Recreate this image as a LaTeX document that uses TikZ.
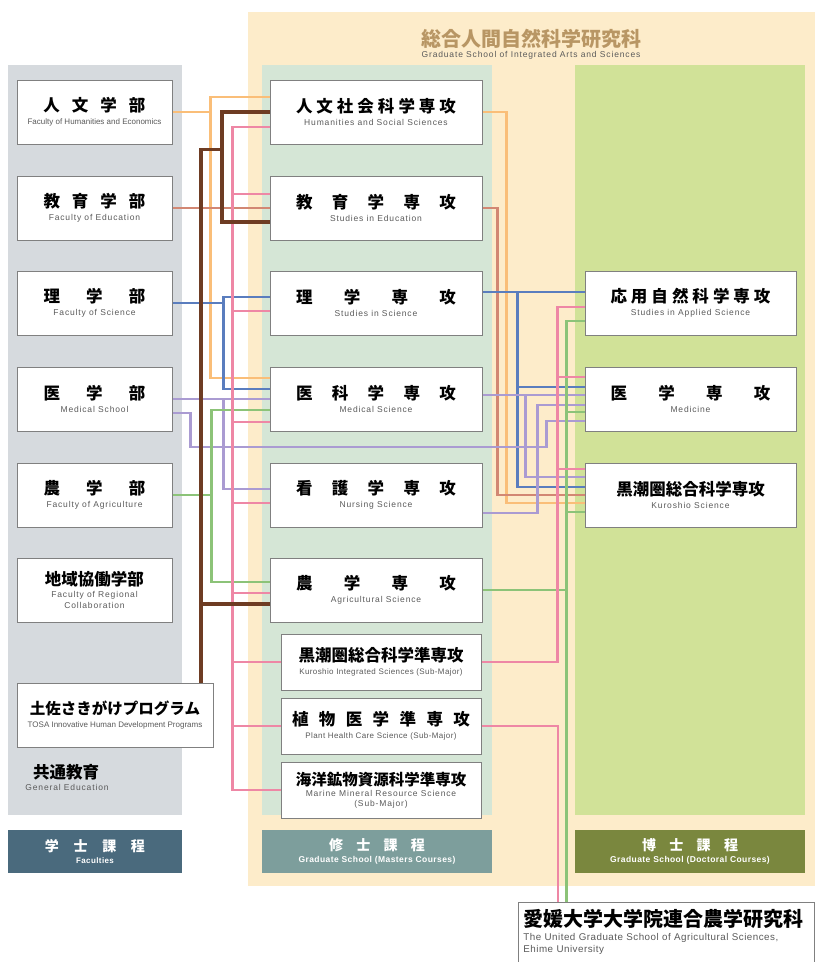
\documentclass[tikz,border=0pt]{standalone}
\usepackage{fontspec}
\setmainfont{Liberation Sans}
\newfontfamily\jpfont{Noto Sans CJK JP}
\newfontfamily\enwide{Liberation Sans}[LetterSpace=10]
\newfontfamily\enmid{Liberation Sans}[LetterSpace=5]
\pgfdeclarelayer{bg}
\pgfdeclarelayer{links}
\pgfsetlayers{bg,links,main}

\definecolor{cream}{RGB}{253,236,202}
\definecolor{panelgray}{RGB}{214,218,222}
\definecolor{panelmint}{RGB}{213,230,214}
\definecolor{panelolive}{RGB}{209,226,152}
\definecolor{boxline}{RGB}{128,128,128}
\definecolor{engray}{RGB}{90,90,90}
\definecolor{titlegold}{RGB}{184,150,100}
\definecolor{barslate}{RGB}{74,106,125}
\definecolor{barteal}{RGB}{125,158,156}
\definecolor{barolive}{RGB}{122,135,62}
\definecolor{cOrange}{RGB}{250,190,120}
\definecolor{cBrown}{RGB}{110,60,35}
\definecolor{cPink}{RGB}{238,135,165}
\definecolor{cSalmon}{RGB}{210,135,115}
\definecolor{cBlue}{RGB}{90,125,190}
\definecolor{cLav}{RGB}{170,155,210}
\definecolor{cGreen}{RGB}{140,195,120}

\newcommand{\jtxt}[1]{{\jpfont\bfseries\fontsize{16.5}{19}\selectfont #1}}
\newcommand{\etxt}[1]{{\enwide\fontsize{8.5}{10}\selectfont\color{engray}#1}}
\newcommand{\etxtm}[1]{{\enmid\fontsize{8}{10}\selectfont\color{engray}#1}}
\newcommand{\etxtn}[1]{{\fontsize{8}{10}\selectfont\color{engray}#1}}
\newcommand{\wide}[2]{\makebox[#1]{#2}}
\newcommand{\boxtxt}[2]{\jtxt{#1}\\[1pt]\etxt{#2}}

\tikzset{
  unitbox/.style={draw=boxline, fill=white, line width=0.9pt, inner sep=0pt,
    align=center, font=\fontsize{10}{12}\selectfont},
  facbox/.style={unitbox, minimum width=155pt, minimum height=64pt},
  mastbox/.style={unitbox, minimum width=212pt, minimum height=64pt},
  subbox/.style={unitbox, minimum width=200pt, minimum height=56pt},
  doctbox/.style={unitbox, minimum width=211pt, minimum height=64pt},
  barbox/.style={minimum width=#1, minimum height=43pt, inner sep=0pt,
    align=center, text=white, font=\fontsize{10}{12}\selectfont},
  link/.style={line width=2.4pt},
  orline/.style={link, draw=cOrange},
  brline/.style={line width=3.4pt, draw=cBrown},
  pkline/.style={link, draw=cPink},
  saline/.style={link, draw=cSalmon},
  blline/.style={link, draw=cBlue},
  lvline/.style={link, draw=cLav},
  grline/.style={link, draw=cGreen}
}

\begin{document}
\begin{tikzpicture}[x=1pt, y=-1pt]
  \useasboundingbox (0,0) rectangle (815,962);

  % panels
  \begin{pgfonlayer}{bg}
    \fill[white] (0,0) rectangle (815,962);
    \fill[cream] (248,12) rectangle (815,886);
    \fill[panelgray] (8,65) rectangle (182,815);
    \fill[panelmint] (262,65) rectangle (492,815);
    \fill[panelolive] (575,65) rectangle (805,815);
  \end{pgfonlayer}

  % title
  \node (title) at (531,39) {\jpfont\bfseries\fontsize{20}{22}\selectfont\color{titlegold}総合人間自然科学研究科};
  \node (subtitle) at (531,55) {\etxt{Graduate School of Integrated Arts and Sciences}};

  % faculties
  \node[facbox] (fHum) at (94.5,112) {\jtxt{\wide{102pt}{人\hfill 文\hfill 学\hfill 部}}\\[1pt]\etxtn{Faculty of Humanities and Economics}};
  \node[facbox] (fEdu) at (94.5,208) {\boxtxt{\wide{102pt}{教\hfill 育\hfill 学\hfill 部}}{Faculty of Education}};
  \node[facbox] (fSci) at (94.5,303) {\boxtxt{\wide{102pt}{理\hfill 学\hfill 部}}{Faculty of Science}};
  \node[facbox] (fMed) at (94.5,399) {\boxtxt{\wide{102pt}{医\hfill 学\hfill 部}}{Medical School}};
  \node[facbox] (fAgr) at (94.5,495) {\boxtxt{\wide{102pt}{農\hfill 学\hfill 部}}{Faculty of Agriculture}};
  \node[facbox] (fReg) at (94.5,590) {\jtxt{地域協働学部}\\[0pt]\etxt{Faculty of Regional}\\[-1pt]\etxt{Collaboration}};
  \node[unitbox, minimum width=196pt, minimum height=64pt] (fTosa) at (115,715)
    {\jtxt{\fontsize{15.5}{18}\selectfont 土佐さきがけプログラム}\\[1pt]\etxtn{TOSA Innovative Human Development Programs}};
  \node (common) at (66,772) {\jtxt{共通教育}};
  \node (commonEn) at (67,787) {\etxt{General Education}};

  % masters
  \node[mastbox] (mHum) at (376,112) {\boxtxt{\wide{160pt}{人\hfill 文\hfill 社\hfill 会\hfill 科\hfill 学\hfill 専\hfill 攻}}{Humanities and Social Sciences}};
  \node[mastbox] (mEdu) at (376,208) {\boxtxt{\wide{160pt}{教\hfill 育\hfill 学\hfill 専\hfill 攻}}{Studies in Education}};
  \node[mastbox] (mSci) at (376,303) {\boxtxt{\wide{160pt}{理\hfill 学\hfill 専\hfill 攻}}{Studies in Science}};
  \node[mastbox] (mMed) at (376,399) {\boxtxt{\wide{160pt}{医\hfill 科\hfill 学\hfill 専\hfill 攻}}{Medical Science}};
  \node[mastbox] (mNur) at (376,495) {\boxtxt{\wide{160pt}{看\hfill 護\hfill 学\hfill 専\hfill 攻}}{Nursing Science}};
  \node[mastbox] (mAgr) at (376,590) {\boxtxt{\wide{160pt}{農\hfill 学\hfill 専\hfill 攻}}{Agricultural Science}};
  \node[subbox] (sKur) at (381,662) {\jtxt{\wide{178pt}{黒潮圏総合科学準専攻}}\\[1pt]\etxtm{Kuroshio Integrated Sciences (Sub-Major)}};
  \node[subbox] (sPla) at (381,726) {\jtxt{\wide{178pt}{植\hfill 物\hfill 医\hfill 学\hfill 準\hfill 専\hfill 攻}}\\[1pt]\etxtm{Plant Health Care Science (Sub-Major)}};
  \node[subbox] (sMar) at (381,790) {\jtxt{\fontsize{15.5}{18}\selectfont 海洋鉱物資源科学準専攻}\\[-1pt]\etxt{Marine Mineral Resource Science}\\[-2pt]\etxt{(Sub-Major)}};

  % doctoral
  \node[doctbox] (dApp) at (690.5,303) {\boxtxt{\wide{160pt}{応\hfill 用\hfill 自\hfill 然\hfill 科\hfill 学\hfill 専\hfill 攻}}{Studies in Applied Science}};
  \node[doctbox] (dMed) at (690.5,399) {\boxtxt{\wide{160pt}{医\hfill 学\hfill 専\hfill 攻}}{Medicine}};
  \node[doctbox] (dKur) at (690.5,495) {\boxtxt{\wide{160pt}{黒潮圏総合科学専攻}}{Kuroshio Science}};

  % Ehime
  \node[unitbox, anchor=north west, text width=286pt, align=left, inner xsep=5pt, inner ysep=7pt] (uEhi) at (518,902)
    {{\jpfont\bfseries\fontsize{20}{23}\selectfont 愛媛大学大学院連合農学研究科}\\[2pt]{\enmid\fontsize{9.8}{11}\selectfont\color{engray}The United Graduate School of Agricultural Sciences,}\\[0pt]{\enmid\fontsize{9.8}{11}\selectfont\color{engray}Ehime University\rule[-16pt]{0pt}{0pt}}};

  % course bars
  \node[barbox=174pt, fill=barslate] (bBach) at (95,851.5)
    {{\jpfont\bfseries\fontsize{14}{16}\selectfont\wide{100pt}{学\hfill 士\hfill 課\hfill 程}}\\[0pt]{\enmid\bfseries\fontsize{8}{9}\selectfont Faculties}};
  \node[barbox=230pt, fill=barteal] (bMast) at (377,851.5)
    {{\jpfont\bfseries\fontsize{14}{16}\selectfont\wide{96pt}{修\hfill 士\hfill 課\hfill 程}}\\[0pt]{\enmid\bfseries\fontsize{8.5}{9}\selectfont Graduate School (Masters Courses)}};
  \node[barbox=230pt, fill=barolive] (bDoct) at (690,851.5)
    {{\jpfont\bfseries\fontsize{14}{16}\selectfont\wide{96pt}{博\hfill 士\hfill 課\hfill 程}}\\[0pt]{\enmid\bfseries\fontsize{8.5}{9}\selectfont Graduate School (Doctoral Courses)}};

  \begin{pgfonlayer}{links}
    % Humanities (orange)
    \draw[orline] (fHum.east) -- ++(38,0) coordinate (obus) |- ([yshift=15pt]mHum.west);
    \draw[orline] (obus) |- ([yshift=21pt]mMed.west);
    \draw[orline] (mHum.east) -- ++(24,0) |- ([yshift=-8pt]dKur.west);

    % Education (salmon)
    \draw[saline] (fEdu.east) -- (mEdu.west);
    \draw[saline] (mEdu.east) -- ++(15,0) |- (dKur.west);

    % Science (blue)
    \draw[blline] (fSci.east) -- ++(51,0) coordinate (bl1) |- ([yshift=6pt]mSci.west);
    \draw[blline] (bl1) |- ([yshift=10pt]mMed.west);
    \draw[blline] ([yshift=11pt]mSci.east) -- ([yshift=11pt]dApp.west);
    \draw[blline] ([yshift=11pt]mSci.east) -- ++(35,0) coordinate (bl2) |- ([yshift=12pt]dMed.west);
    \draw[blline] (bl2) |- ([yshift=8pt]dKur.west);

    % Medicine (lavender)
    \draw[lvline] (fMed.east) -- (mMed.west);
    \draw[lvline] (fMed.east) -- ++(51,0) |- ([yshift=6pt]mNur.west);
    \draw[lvline] ([yshift=-14pt]fMed.east) -- ++(18,0) -- ++(0,34)
      -| ([xshift=-38pt,yshift=-22pt]dMed.west) -- ([yshift=-22pt]dMed.west);
    \draw[lvline] ([yshift=4pt]mMed.east) -- ([yshift=4pt]dMed.west);
    \draw[lvline] ([yshift=4pt]mMed.east) -- ++(43,0) |- ([yshift=18pt]dKur.west);
    \draw[lvline] ([yshift=-18pt]mNur.east) -- ++(55,0) |- ([yshift=-6pt]dMed.west);

    % Agriculture (green)
    \draw[grline] (fAgr.east) -- ++(39,0) coordinate (g1) |- ([yshift=-11pt]mMed.west);
    \draw[grline] (g1) |- ([yshift=8pt]mAgr.west);
    \draw[grline] (mAgr.east) -- ++(84,0) coordinate (gbus) |- ([yshift=-18pt]dApp.west);
    \draw[grline] (gbus) |- ([yshift=-13pt]dMed.west);
    \draw[grline] (gbus) |- ([yshift=-17pt]dKur.west);
    \draw[grline] (gbus) -- (gbus |- uEhi.north);

    % shared sub-major bus (pink)
    \draw[pkline] ([yshift=-15pt]mHum.west) -- ++(-37,0) coordinate (pbus) |- (sMar.west);
    \foreach \n/\s in {mEdu/14, mSci/-8, mMed/-23, mNur/-8, mAgr/-3, sKur/0, sPla/0}
      \draw[pkline] (pbus) |- ([yshift=\s pt]\n.west);
    \draw[pkline] (sKur.east) -- ++(76,0) coordinate (pbus2) |- ([yshift=-4pt]dApp.west);
    \draw[pkline] (pbus2) |- ([yshift=22pt]dMed.west);
    \draw[pkline] (pbus2) |- ([yshift=26pt]dKur.west);
    \draw[pkline] (sPla.east) -| ([xshift=-108.5pt]uEhi.north);

    % Tosa programme (brown)
    \draw[brline] ([xshift=86pt]fTosa.north) -- ++(0,-533) coordinate (bk1) -- ++(21,0) coordinate (bbus) |- (mHum.west);
    \draw[brline] (bbus) |- ([yshift=-14pt]mEdu.west);
    \draw[brline] (bk1) |- ([yshift=-14pt]mAgr.west);
  \end{pgfonlayer}
\end{tikzpicture}
\end{document}
